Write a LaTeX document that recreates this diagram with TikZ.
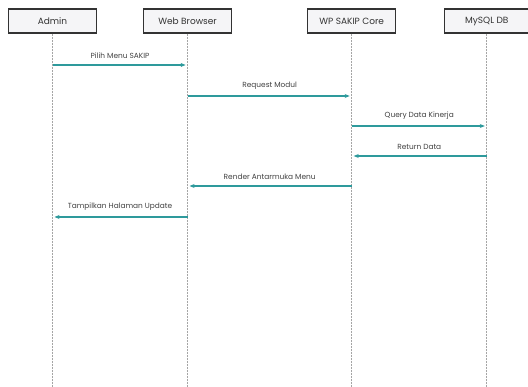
\documentclass[tikz,border=0pt]{standalone}
\usepackage{fontspec}
\setmainfont{Poppins}
\usepackage{tikz}
\usetikzlibrary{
  arrows.meta,
  positioning,
  calc
}
\definecolor{sdMsg}{HTML}{2E9A9C}
\definecolor{sdEdge}{HTML}{333333}
\definecolor{sdFill}{HTML}{F5F5F7}
\definecolor{sdLine}{HTML}{A5A5A5}
\tikzset{
  actor/.style={
    draw=sdEdge, fill=sdFill, line width=1.1pt, minimum height=24pt,
    minimum width=88pt, font=\fontsize{9}{10}\selectfont, text=black!80, inner sep=2pt
  },
  lifeline/.style={draw=sdLine, line width=0.8pt, dash pattern=on 2pt off 1pt},
  msg/.style={-{Stealth[length=5pt, width=4pt]}, draw=sdMsg, line width=1.2pt, shorten >=2pt},
  msgtag/.style={font=\fontsize{7.4}{8}\selectfont, text=black!75, above=4.5pt, midway, inner sep=1pt}
}
\begin{document}
\begin{tikzpicture}[x=1pt, y=-1pt, node distance=46pt]
  \useasboundingbox (0,0) rectangle (528,387);
  % actors
  \node[actor] at (52.5,21) (admin) {Admin};
  \node[actor, right=46pt of admin] (web) {Web Browser};
  \node[actor, right=75pt of web] (core) {WP SAKIP Core};
  \node[actor, right=48pt of core, minimum width=84pt] (db) {MySQL DB};
  \coordinate (bottom) at (0,387);
  % lifelines
  \foreach \who in {admin, web, core, db}
    \draw[lifeline] (\who.south) -- (\who.south |- bottom);
  % message rows
  \coordinate (m1) at (0,65);
  \coordinate (m2) at (0,96);
  \coordinate (m3) at (0,126);
  \coordinate (m4) at (0,156);
  \coordinate (m5) at (0,186);
  \coordinate (m6) at (0,217);
  \draw[msg] (admin |- m1) -- (web |- m1) node[msgtag] {Pilih Menu SAKIP};
  \draw[msg] (web |- m2) -- (core |- m2) node[msgtag] {Request Modul};
  \draw[msg] (core |- m3) -- (db |- m3) node[msgtag] {Query Data Kinerja};
  \draw[msg] (db |- m4) -- (core |- m4) node[msgtag] {Return Data};
  \draw[msg] (core |- m5) -- (web |- m5) node[msgtag] {Render Antarmuka Menu};
  \draw[msg] (web |- m6) -- (admin |- m6) node[msgtag] {Tampilkan Halaman Update};
\end{tikzpicture}
\end{document}
